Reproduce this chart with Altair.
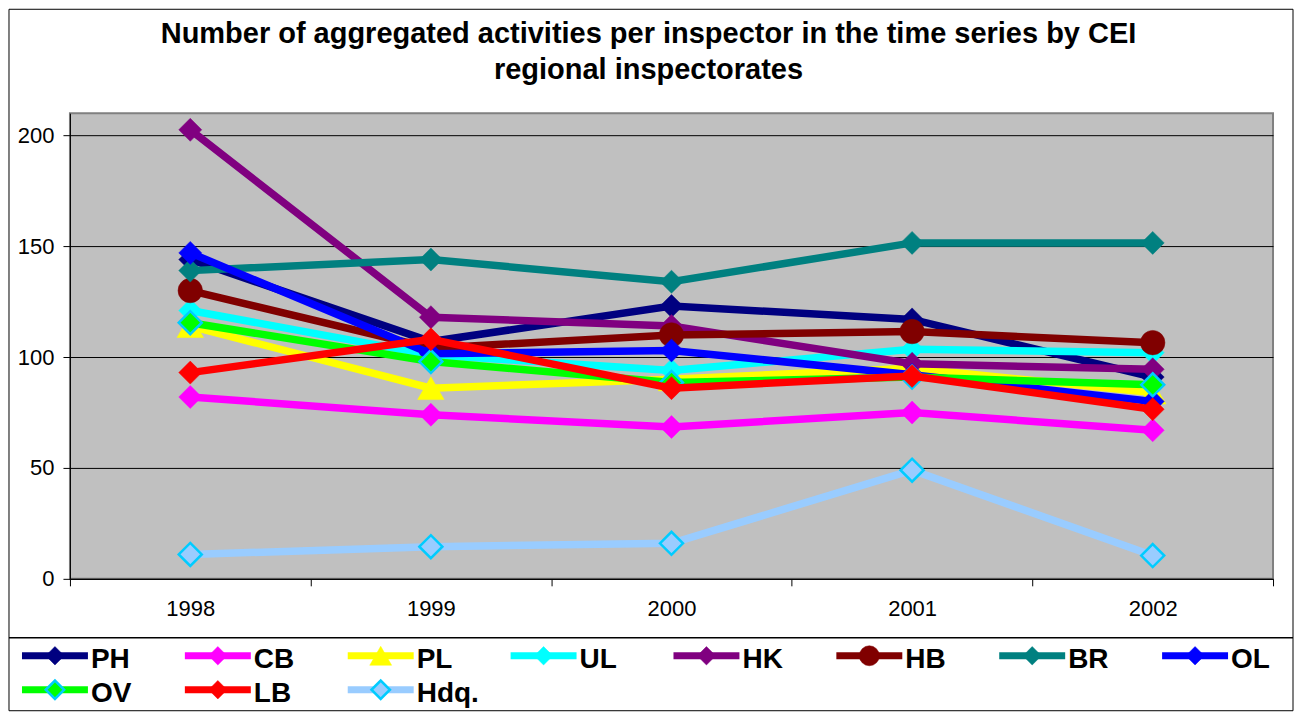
import altair as alt
import pandas as pd

# ---------------- data ----------------
years = ["1998", "1999", "2000", "2001", "2002"]
series_names = ["PH", "CB", "PL", "UL", "HK", "HB", "BR", "OL", "OV", "LB", "Hdq."]

PH = [144, 107, 123, 117, 91]
CB = [82, 74, 68.5, 75, 67]
PL = [114, 86, 90, 95, 84]
UL = [121, 101, 94, 103.5, 102]
HK = [202.5, 118, 114, 97, 94.5]
HB = [130, 104, 110, 111.5, 106.5]
BR = [139, 144, 134, 151.5, 151.5]
OL = [147, 101.5, 103, 92, 80]
OV = [115.5, 98, 88.5, 91, 87.5]
LB = [93, 108, 86, 91.5, 76.5]
Hdq = [11, 14.5, 16, 49, 10.5]
series_values = [PH, CB, PL, UL, HK, HB, BR, OL, OV, LB, Hdq]

line_colors = ["#000080", "#FF00FF", "#FFFF00", "#00FFFF", "#800080", "#800000",
               "#008080", "#0000FF", "#00FF00", "#FF0000", "#99CCFF"]
marker_shapes = ["diamond", "diamond", "triangle-up", "diamond", "diamond", "circle",
                 "diamond", "diamond", "diamond", "diamond", "diamond"]
marker_fills = ["#000080", "#FF00FF", "#FFFF00", "#00FFFF", "#800080", "#800000",
                "#008080", "#0000FF", "#00FF00", "#FF0000", "#99CCFF"]
marker_strokes = ["#000080", "#FF00FF", "#FFFF00", "#00FFFF", "#800080", "#800000",
                  "#008080", "#0000FF", "#00CCFF", "#FF0000", "#00CCFF"]

title_lines = ["Number of aggregated activities per inspector in the time series by CEI",
               "regional inspectorates"]
y_ticks = [0, 50, 100, 150, 200]

rows = []
for name, vals in zip(series_names, series_values):
    for yr, v in zip(years, vals):
        rows.append({"series": name, "year": yr, "value": v})
df = pd.DataFrame(rows)

# ---------------- layout ----------------
W, H = 1204, 466
FONT = "Liberation Sans"
one = pd.DataFrame({"k": [0]})

marker_size = {"diamond": 530, "circle": 600, "triangle-up": 700}
legend_size = {"diamond": 340, "circle": 400, "triangle-up": 480}

x_enc = alt.X(
    "year:O",
    bandPosition=0.5,
    scale=alt.Scale(type="band", domain=years, paddingInner=0, paddingOuter=0),
    axis=alt.Axis(title=None, tickBand="extent", tickSize=7, tickColor="black",
                  domainColor="black", labelFontSize=22, labelPadding=13,
                  labelColor="black", labelFont=FONT, labelAngle=0, grid=False),
)
y_enc = alt.Y(
    "value:Q",
    scale=alt.Scale(domain=[0, 210], nice=False, zero=True),
    axis=alt.Axis(title=None, values=y_ticks, tickSize=7, tickColor="black",
                  domainColor="black", labelFontSize=22, labelPadding=9,
                  labelColor="black", labelFont=FONT, grid=True,
                  gridColor="black", gridWidth=1, gridOpacity=1),
)

layers = []

# outer frame and legend separator
layers.append(
    alt.Chart(one).mark_rect(fill="white", fillOpacity=0, stroke="black", strokeWidth=1)
    .encode(x=alt.value(-61), x2=alt.value(1224), y=alt.value(-104), y2=alt.value(598))
)
layers.append(
    alt.Chart(one).mark_rule(color="black", strokeWidth=1.5)
    .encode(x=alt.value(-61), x2=alt.value(1224), y=alt.value(525))
)

# title
for i, t in enumerate(title_lines):
    layers.append(
        alt.Chart(one).mark_text(align="center", baseline="alphabetic", fontSize=29,
                                 fontWeight="bold", font=FONT, color="black")
        .encode(x=alt.value(579), y=alt.value(-70 + 36 * i), text=alt.value(t))
    )

# series
for i, name in enumerate(series_names):
    sub = df[df["series"] == name]
    shape = marker_shapes[i]
    layers.append(
        alt.Chart(sub).mark_line(color=line_colors[i], strokeWidth=7.5)
        .encode(x=x_enc, y=y_enc)
    )
    layers.append(
        alt.Chart(sub).mark_point(shape=shape, filled=True, fill=marker_fills[i],
                                  stroke=marker_strokes[i],
                                  strokeWidth=2.5 if marker_strokes[i] != marker_fills[i] else 0.5,
                                  size=marker_size[shape], opacity=1, fillOpacity=1)
        .encode(x=x_enc, y=y_enc)
    )

# legend
for i, name in enumerate(series_names):
    c, r = i % 8, i // 8
    lx = -48 + 163 * c
    lx2 = 18 + 163 * c
    ly = 543 + 34 * r
    shape = marker_shapes[i]
    layers.append(
        alt.Chart(one).mark_rule(color=line_colors[i], strokeWidth=7)
        .encode(x=alt.value(lx), x2=alt.value(lx2), y=alt.value(ly))
    )
    layers.append(
        alt.Chart(one).mark_point(shape=shape, filled=True, fill=marker_fills[i],
                                  stroke=marker_strokes[i],
                                  strokeWidth=2.5 if marker_strokes[i] != marker_fills[i] else 0.5,
                                  size=legend_size[shape], opacity=1, fillOpacity=1)
        .encode(x=alt.value((lx + lx2) / 2), y=alt.value(ly))
    )
    layers.append(
        alt.Chart(one).mark_text(align="left", baseline="alphabetic", fontSize=28,
                                 fontWeight="bold", font=FONT, color="black")
        .encode(x=alt.value(lx2 + 3), y=alt.value(ly + 12), text=alt.value(name))
    )

chart = (
    alt.layer(*layers)
    .properties(width=W, height=H, padding=0, background="white")
    .configure_view(fill="#C0C0C0", stroke="#808080", strokeWidth=2)
)

chart.save("out.html", embed_options={"renderer": "svg", "actions": False})
